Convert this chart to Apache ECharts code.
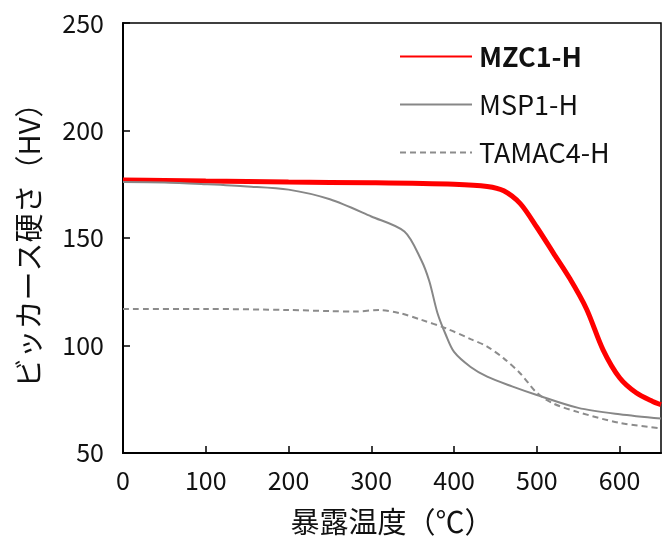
<!DOCTYPE html>
<html>
<head>
<meta charset="utf-8">
<script src="https://cdn.jsdelivr.net/npm/echarts@6/dist/echarts.min.js"></script>
<style>
  html, body { margin: 0; padding: 0; background: #fff; }
  #main { width: 665px; height: 541px; }
</style>
</head>
<body>
<div id="main"></div>
<script>
// 暴露温度 (℃) と ビッカース硬さ (HV)
const seriesNames = ['MZC1-H', 'MSP1-H', 'TAMAC4-H']

const mzcTemp = [0, 50, 100, 200, 300, 400, 440, 460, 480, 500, 520, 540, 560, 580, 600, 620, 640, 650]
const mzcHv = [177, 176.8, 176.5, 176, 175.7, 175, 174, 172, 166, 155, 143, 131, 117, 98, 85, 78, 74, 72.5]

const mspTemp = [0, 50, 100, 150, 200, 250, 300, 340, 360, 370, 380, 390, 400, 420, 440, 470, 500, 550, 600, 650]
const mspHv = [176, 175.8, 175, 174, 172.5, 168, 160, 153, 140, 130, 115, 105, 97, 90, 85.5, 81, 77, 71, 68, 66]

const tamTemp = [0, 100, 200, 250, 280, 310, 335, 360, 390, 420, 440, 460, 480, 500, 520, 550, 600, 650]
const tamHv = [117, 117, 116.5, 116, 115.8, 116.5, 115, 112, 108, 103, 99.5, 94, 87, 78, 73, 69, 64, 61.5]

const xTicks = { min: 0, max: 650, interval: 100 }
const yTicks = { min: 50, max: 250, interval: 50 }

const pairs = (xs, ys) => xs.map((x, i) => [x, ys[i]])

const font = '"Noto Sans CJK JP", "Noto Sans", sans-serif'

const myChart = echarts.init(document.getElementById('main'))

const option = {
  animation: false,
  textStyle: { fontFamily: font },
  grid: {
    left: 123,
    right: 4,
    top: 23,
    bottom: 88,
    show: true,
    borderColor: '#000',
    borderWidth: 1.5
  },
  legend: {
    orient: 'vertical',
    left: 394,
    top: 38,
    itemWidth: 72,
    itemHeight: 14,
    itemGap: 21,
    itemStyle: { opacity: 0 },
    textStyle: { fontSize: 27, color: '#111', fontFamily: font, padding: [0, 0, 0, 2] },
    data: [
      { name: seriesNames[0], textStyle: { fontWeight: 'bold' } },
      { name: seriesNames[1] },
      { name: seriesNames[2] }
    ]
  },
  xAxis: {
    type: 'value',
    min: xTicks.min,
    max: xTicks.max,
    interval: xTicks.interval,
    name: '暴露温度（℃）',
    nameLocation: 'middle',
    nameGap: 54,
    nameTextStyle: { fontSize: 29, color: '#111', fontFamily: font },
    axisLine: { lineStyle: { color: '#000', width: 2 } },
    axisTick: { inside: true, length: 7, lineStyle: { color: '#000', width: 1.5 } },
    axisLabel: { fontSize: 25, color: '#111', margin: 15, showMaxLabel: false },
    splitLine: { show: false }
  },
  yAxis: {
    type: 'value',
    min: yTicks.min,
    max: yTicks.max,
    interval: yTicks.interval,
    name: 'ビッカース硬さ（HV）',
    nameLocation: 'middle',
    nameGap: 80,
    nameTextStyle: { fontSize: 29, color: '#111', fontFamily: font },
    axisLine: { lineStyle: { color: '#000', width: 2 } },
    axisTick: { inside: true, length: 7, lineStyle: { color: '#000', width: 1.5 } },
    axisLabel: { fontSize: 25, color: '#111', margin: 19 },
    splitLine: { show: false }
  },
  series: [
    {
      name: seriesNames[0],
      type: 'line',
      data: pairs(mzcTemp, mzcHv),
      symbol: 'none',
      smooth: 0.3,
      z: 3,
      lineStyle: { color: '#ff0000', width: 5 },
      itemStyle: { color: '#ff0000' }
    },
    {
      name: seriesNames[1],
      type: 'line',
      data: pairs(mspTemp, mspHv),
      symbol: 'none',
      smooth: 0.3,
      lineStyle: { color: '#878787', width: 2 },
      itemStyle: { color: '#878787' }
    },
    {
      name: seriesNames[2],
      type: 'line',
      data: pairs(tamTemp, tamHv),
      symbol: 'none',
      smooth: 0.3,
      lineStyle: { color: '#8c8c8c', width: 2, type: [6, 4] },
      itemStyle: { color: '#8c8c8c' }
    }
  ]
}

myChart.setOption(option)
</script>
</body>
</html>
